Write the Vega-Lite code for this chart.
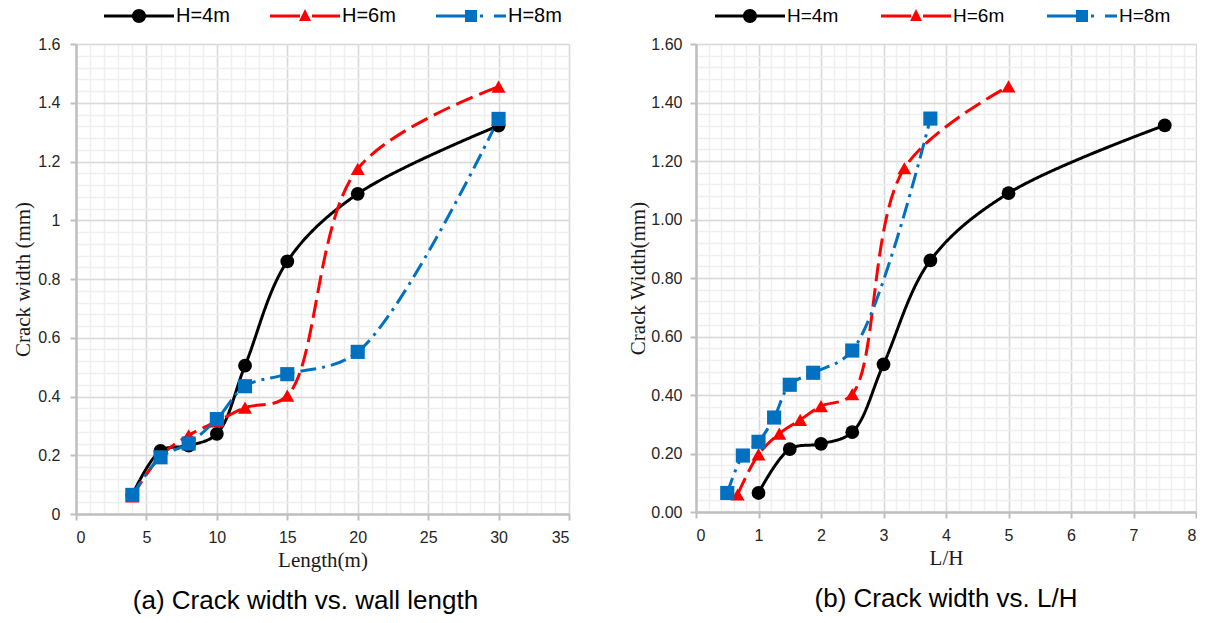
{
  "$schema": "https://vega.github.io/schema/vega-lite/v6.json",
  "background": "white",
  "padding": {"left": 12, "top": 6, "right": 0, "bottom": 2},
  "data": {
    "values": [
      {"H": "H=4m", "L": 4, "LH": 1, "w": 0.065},
      {"H": "H=4m", "L": 6, "LH": 1.5, "w": 0.215},
      {"H": "H=4m", "L": 8, "LH": 2, "w": 0.233},
      {"H": "H=4m", "L": 10, "LH": 2.5, "w": 0.273},
      {"H": "H=4m", "L": 12, "LH": 3, "w": 0.505},
      {"H": "H=4m", "L": 15, "LH": 3.75, "w": 0.86},
      {"H": "H=4m", "L": 20, "LH": 5, "w": 1.09},
      {"H": "H=4m", "L": 30, "LH": 7.5, "w": 1.322},
      {"H": "H=6m", "L": 4, "LH": 0.667, "w": 0.06},
      {"H": "H=6m", "L": 6, "LH": 1, "w": 0.197},
      {"H": "H=6m", "L": 8, "LH": 1.333, "w": 0.268},
      {"H": "H=6m", "L": 10, "LH": 1.667, "w": 0.315},
      {"H": "H=6m", "L": 12, "LH": 2, "w": 0.362},
      {"H": "H=6m", "L": 15, "LH": 2.5, "w": 0.403},
      {"H": "H=6m", "L": 20, "LH": 3.333, "w": 1.175},
      {"H": "H=6m", "L": 30, "LH": 5, "w": 1.455},
      {"H": "H=8m", "L": 4, "LH": 0.5, "w": 0.065},
      {"H": "H=8m", "L": 6, "LH": 0.75, "w": 0.193},
      {"H": "H=8m", "L": 8, "LH": 1, "w": 0.24},
      {"H": "H=8m", "L": 10, "LH": 1.25, "w": 0.323},
      {"H": "H=8m", "L": 12, "LH": 1.5, "w": 0.435},
      {"H": "H=8m", "L": 15, "LH": 1.875, "w": 0.476},
      {"H": "H=8m", "L": 20, "LH": 2.5, "w": 0.552},
      {"H": "H=8m", "L": 30, "LH": 3.75, "w": 1.345}
    ]
  },
  "spacing": 57,
  "resolve": {"scale": {"color": "independent", "shape": "independent", "strokeDash": "independent", "size": "independent"}, "legend": {"color": "independent", "shape": "independent", "strokeDash": "independent", "size": "independent"}},
  "hconcat": [
    {
      "width": 493,
      "height": 470,
      "title": {"text": "(a) Crack width vs. wall length", "orient": "bottom", "anchor": "middle", "font": "Liberation Sans", "fontSize": 26, "fontWeight": "normal", "color": "#000000", "offset": 18, "dx": -17},
      "resolve": {"axis": {"x": "independent", "y": "independent"}, "scale": {"shape": "independent", "color": "independent"}, "legend": {"shape": "independent", "color": "independent"}},
      "layer": [
        {
          "mark": {"type": "point", "opacity": 0, "filled": true},
          "encoding": {
            "x": {"field": "L", "type": "quantitative", "scale": {"domain": [0, 35], "nice": false, "zero": false},
              "axis": {"orient": "bottom", "values": [0,1,2,3,4,5,6,7,8,9,10,11,12,13,14,15,16,17,18,19,20,21,22,23,24,25,26,27,28,29,30,31,32,33,34,35], "grid": true, "gridColor": "#efefef", "gridWidth": 1.5, "labels": false, "ticks": false, "domain": false, "title": null}},
            "y": {"field": "w", "type": "quantitative", "scale": {"domain": [0, 1.6], "nice": false},
              "axis": {"orient": "left", "values": [0,0.04,0.08,0.12,0.16,0.2,0.24,0.28,0.32,0.36,0.4,0.44,0.48,0.52,0.56,0.6,0.64,0.68,0.72,0.76,0.8,0.84,0.88,0.92,0.96,1,1.04,1.08,1.12,1.16,1.2,1.24,1.28,1.32,1.36,1.4,1.44,1.48,1.52,1.56,1.6], "grid": true, "gridColor": "#efefef", "gridWidth": 1.5, "labels": false, "ticks": false, "domain": false, "title": null}},
            "color": {"field": "H", "type": "nominal", "scale": {"domain": ["H=4m","H=6m","H=8m"], "range": ["#000000","#ff0000","#0070c0"]},
              "legend": {"orient": "none", "legendX": 53, "legendY": -38, "direction": "horizontal", "title": null, "labelFont": "Liberation Sans", "labelFontSize": 20, "labelColor": "#000000", "symbolSize": 400, "symbolStrokeWidth": 0, "symbolOpacity": 1, "labelOffset": 27, "columnPadding": 40}},
            "shape": {"field": "H", "type": "nominal", "scale": {"domain": ["H=4m","H=6m","H=8m"], "range": ["M-3.5,-0.15H3.5V0.15H-3.5Z M-0.7,0A0.7,0.7 0 1,1 0.7,0A0.7,0.7 0 1,1 -0.7,0Z", "M-3.5,-0.15H-0.5V0.15H-3.5Z M0,-0.7L0.6,0.5H-0.6Z M0.7,-0.15H3.5V0.15H0.7Z", "M-3.5,-0.15H-0.6V0.15H-3.5Z M-0.6,-0.6H0.6V0.6H-0.6Z M0.9,-0.15H1.2V0.15H0.9Z M2.3,-0.15H3.5V0.15H2.3Z"]},
              "legend": {"orient": "none", "legendX": 53, "legendY": -38, "direction": "horizontal", "title": null, "labelFont": "Liberation Sans", "labelFontSize": 20, "labelColor": "#000000", "symbolSize": 400, "symbolStrokeWidth": 0, "symbolOpacity": 1, "labelOffset": 27, "columnPadding": 40}}
          }
        },
        {
          "mark": {"type": "line", "interpolate": "catmull-rom", "strokeWidth": 3},
          "encoding": {
            "x": {"field": "L", "type": "quantitative", "scale": {"domain": [0, 35], "nice": false, "zero": false},
              "axis": {"orient": "bottom", "values": [0,5,10,15,20,25,30,35], "grid": true, "title": "Length(m)"}},
            "y": {"field": "w", "type": "quantitative", "scale": {"domain": [0, 1.6], "nice": false},
              "axis": {"orient": "left", "values": [0,0.2,0.4,0.6,0.8,1,1.2,1.4,1.6], "format": "~g", "grid": true, "title": "Crack width (mm)", "labelPadding": 10}},
            "color": {"field": "H", "type": "nominal", "scale": {"domain": ["H=4m","H=6m","H=8m"], "range": ["#000000","#ff0000","#0070c0"]}, "legend": null},
            "strokeDash": {"field": "H", "type": "nominal", "scale": {"domain": ["H=4m","H=6m","H=8m"], "range": [[1,0],[18,7],[16,6,3,6]]}, "legend": null}
          }
        },
        {
          "mark": {"type": "point", "filled": true, "opacity": 1},
          "encoding": {
            "x": {"field": "L", "type": "quantitative", "scale": {"domain": [0, 35], "nice": false, "zero": false}, "axis": null},
            "y": {"field": "w", "type": "quantitative", "scale": {"domain": [0, 1.6], "nice": false}, "axis": null},
            "color": {"field": "H", "type": "nominal", "scale": {"domain": ["H=4m","H=6m","H=8m"], "range": ["#000000","#ff0000","#0070c0"]}, "legend": null},
            "shape": {"field": "H", "type": "nominal", "scale": {"domain": ["H=4m","H=6m","H=8m"], "range": ["circle","triangle-up","square"]}, "legend": null},
            "size": {"field": "H", "type": "nominal", "scale": {"domain": ["H=4m","H=6m","H=8m"], "range": [190, 200, 155]}, "legend": null}
          }
        }
      ]
    },
    {
      "width": 500,
      "height": 468,
      "title": {"text": "(b) Crack width vs. L/H", "orient": "bottom", "anchor": "middle", "font": "Liberation Sans", "fontSize": 26, "fontWeight": "normal", "color": "#000000", "offset": 18},
      "resolve": {"axis": {"x": "independent", "y": "independent"}, "scale": {"shape": "independent", "color": "independent"}, "legend": {"shape": "independent", "color": "independent"}},
      "layer": [
        {
          "mark": {"type": "point", "opacity": 0, "filled": true},
          "encoding": {
            "x": {"field": "LH", "type": "quantitative", "scale": {"domain": [0, 8], "nice": false, "zero": false},
              "axis": {"orient": "bottom", "values": [0,0.2,0.4,0.6,0.8,1,1.2,1.4,1.6,1.8,2,2.2,2.4,2.6,2.8,3,3.2,3.4,3.6,3.8,4,4.2,4.4,4.6,4.8,5,5.2,5.4,5.6,5.8,6,6.2,6.4,6.6,6.8,7,7.2,7.4,7.6,7.8,8], "grid": true, "gridColor": "#efefef", "gridWidth": 1.5, "labels": false, "ticks": false, "domain": false, "title": null}},
            "y": {"field": "w", "type": "quantitative", "scale": {"domain": [0, 1.6], "nice": false},
              "axis": {"orient": "left", "values": [0,0.04,0.08,0.12,0.16,0.2,0.24,0.28,0.32,0.36,0.4,0.44,0.48,0.52,0.56,0.6,0.64,0.68,0.72,0.76,0.8,0.84,0.88,0.92,0.96,1,1.04,1.08,1.12,1.16,1.2,1.24,1.28,1.32,1.36,1.4,1.44,1.48,1.52,1.56,1.6], "grid": true, "gridColor": "#efefef", "gridWidth": 1.5, "labels": false, "ticks": false, "domain": false, "title": null}},
            "color": {"field": "H", "type": "nominal", "scale": {"domain": ["H=4m","H=6m","H=8m"], "range": ["#000000","#ff0000","#0070c0"]},
              "legend": {"orient": "none", "legendX": 44, "legendY": -38, "direction": "horizontal", "title": null, "labelFont": "Liberation Sans", "labelFontSize": 19, "labelColor": "#000000", "symbolSize": 400, "symbolStrokeWidth": 0, "symbolOpacity": 1, "labelOffset": 27, "columnPadding": 42}},
            "shape": {"field": "H", "type": "nominal", "scale": {"domain": ["H=4m","H=6m","H=8m"], "range": ["M-3.5,-0.15H3.5V0.15H-3.5Z M-0.7,0A0.7,0.7 0 1,1 0.7,0A0.7,0.7 0 1,1 -0.7,0Z", "M-3.5,-0.15H-0.5V0.15H-3.5Z M0,-0.7L0.6,0.5H-0.6Z M0.7,-0.15H3.5V0.15H0.7Z", "M-3.5,-0.15H-0.6V0.15H-3.5Z M-0.6,-0.6H0.6V0.6H-0.6Z M0.9,-0.15H1.2V0.15H0.9Z M2.3,-0.15H3.5V0.15H2.3Z"]},
              "legend": {"orient": "none", "legendX": 44, "legendY": -38, "direction": "horizontal", "title": null, "labelFont": "Liberation Sans", "labelFontSize": 19, "labelColor": "#000000", "symbolSize": 400, "symbolStrokeWidth": 0, "symbolOpacity": 1, "labelOffset": 27, "columnPadding": 42}}
          }
        },
        {
          "mark": {"type": "line", "interpolate": "catmull-rom", "strokeWidth": 3},
          "encoding": {
            "x": {"field": "LH", "type": "quantitative", "scale": {"domain": [0, 8], "nice": false, "zero": false},
              "axis": {"orient": "bottom", "values": [0,1,2,3,4,5,6,7,8], "grid": true, "title": "L/H"}},
            "y": {"field": "w", "type": "quantitative", "scale": {"domain": [0, 1.6], "nice": false},
              "axis": {"orient": "left", "values": [0,0.2,0.4,0.6,0.8,1,1.2,1.4,1.6], "format": ".2f", "grid": true, "title": "Crack Width(mm)", "titlePadding": 2}},
            "color": {"field": "H", "type": "nominal", "scale": {"domain": ["H=4m","H=6m","H=8m"], "range": ["#000000","#ff0000","#0070c0"]}, "legend": null},
            "strokeDash": {"field": "H", "type": "nominal", "scale": {"domain": ["H=4m","H=6m","H=8m"], "range": [[1,0],[18,7],[16,6,3,6]]}, "legend": null}
          }
        },
        {
          "mark": {"type": "point", "filled": true, "opacity": 1},
          "encoding": {
            "x": {"field": "LH", "type": "quantitative", "scale": {"domain": [0, 8], "nice": false, "zero": false}, "axis": null},
            "y": {"field": "w", "type": "quantitative", "scale": {"domain": [0, 1.6], "nice": false}, "axis": null},
            "color": {"field": "H", "type": "nominal", "scale": {"domain": ["H=4m","H=6m","H=8m"], "range": ["#000000","#ff0000","#0070c0"]}, "legend": null},
            "shape": {"field": "H", "type": "nominal", "scale": {"domain": ["H=4m","H=6m","H=8m"], "range": ["circle","triangle-up","square"]}, "legend": null},
            "size": {"field": "H", "type": "nominal", "scale": {"domain": ["H=4m","H=6m","H=8m"], "range": [190, 200, 155]}, "legend": null}
          }
        }
      ]
    }
  ],
  "config": {
    "view": {"stroke": null},
    "axis": {"domainColor": "#bfbfbf", "domainWidth": 2.5, "tickColor": "#bfbfbf", "tickWidth": 2, "tickSize": 6, "gridColor": "#d9d9d9", "gridWidth": 1.5, "labelFont": "Liberation Sans", "labelFontSize": 16, "labelColor": "#262626", "titleFont": "Liberation Serif", "titleFontSize": 21, "titleFontWeight": "normal", "titleColor": "#1a1a1a"},
    "axisX": {"labelPadding": 9, "titlePadding": 4},
    "axisY": {"labelPadding": 8, "titlePadding": 4}
  }
}
